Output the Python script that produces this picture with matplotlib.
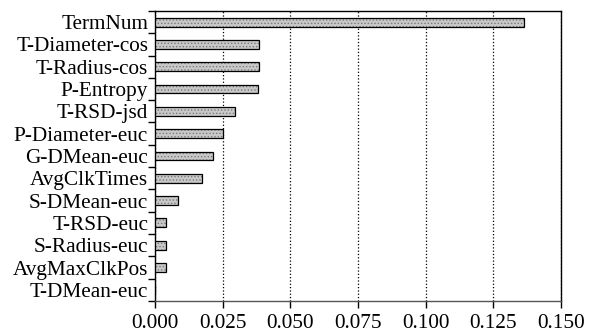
import matplotlib.pyplot as plt
import numpy as np

labels = ['TermNum', 'T-Diameter-cos', 'T-Radius-cos', 'P-Entropy', 'T-RSD-jsd',
          'P-Diameter-euc', 'G-DMean-euc', 'AvgClkTimes', 'S-DMean-euc',
          'T-RSD-euc', 'S-Radius-euc', 'AvgMaxClkPos', 'T-DMean-euc']
values = [0.1363, 0.0384, 0.0384, 0.0381, 0.0296, 0.0251, 0.0214, 0.0174,
          0.0086, 0.0041, 0.0041, 0.0041, 0.0]
xticks = [0.000, 0.025, 0.050, 0.075, 0.100, 0.125, 0.150]

plt.rcParams['font.family'] = 'Liberation Serif'
plt.rcParams['hatch.linewidth'] = 0.6

fig = plt.figure(figsize=(5.93, 3.31), dpi=100)
ax = fig.add_axes([0.2614, 0.0906, 0.6846, 0.8764])

pos = np.arange(len(labels))
ax.barh(pos, values, height=0.4, color='#c8c8c8', edgecolor='#7a7a7a',
        hatch='.....', linewidth=0, zorder=3)
ax.barh(pos, values, height=0.4, fill=False, edgecolor='black',
        linewidth=0.9, zorder=4)

ax.set_ylim(len(labels) - 0.5, -0.5)
ax.set_xlim(0, 0.15)
ax.set_yticks(pos)
ax.set_yticklabels(labels, fontsize=15.3)
ax.set_yticks(np.arange(len(labels) + 1) - 0.5, minor=True)
ax.tick_params(axis='y', which='major', length=0, pad=5)
ax.tick_params(axis='y', which='minor', length=5, width=1, direction='out')
ax.set_xticks(xticks)
ax.set_xticklabels(['%.3f' % t for t in xticks], fontsize=15.3)
ax.tick_params(axis='x', length=5, width=1, direction='out', pad=4)

ax.grid(axis='x', linestyle=':', color='black', linewidth=0.9, zorder=1)
for s in ax.spines.values():
    s.set_linewidth(1)
ax.spines['bottom'].set_color('#555555')

fig.savefig('out.png', dpi=100)
